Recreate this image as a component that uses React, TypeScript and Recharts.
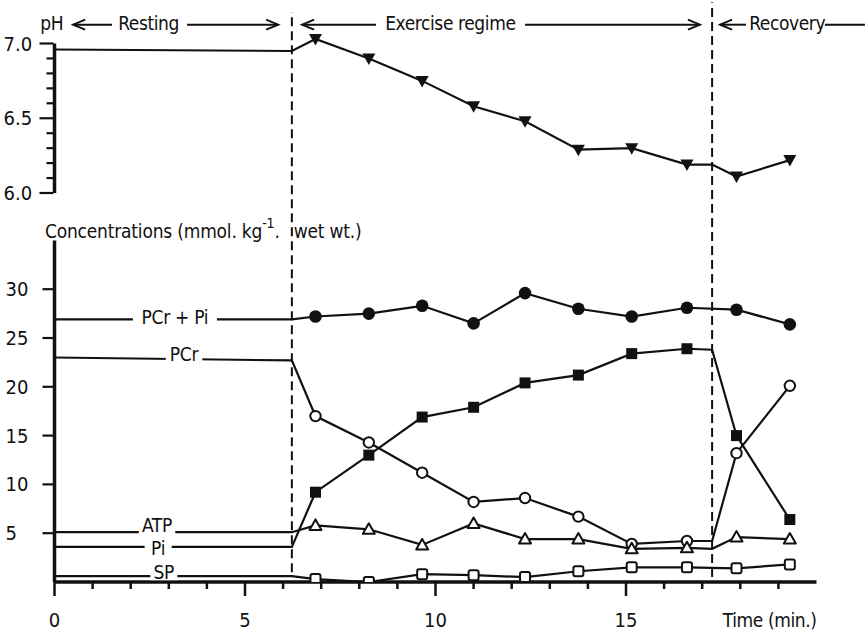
import React from 'react';
import { ComposedChart, Line, XAxis, YAxis, ReferenceLine, ReferenceDot } from 'recharts';

// times (min.) of the sampled points, end of rest and start of recovery
const sampleTimes = [6.85, 8.25, 9.65, 11.0, 12.35, 13.75, 15.15, 16.6, 17.9, 19.3];
const restEnd = 6.23;
const recoveryStart = 17.26;

// resting values: at t = 0 and at end of rest
const phRest = [6.96, 6.95];
const phSamples = [7.03, 6.9, 6.75, 6.58, 6.48, 6.29, 6.3, 6.19, 6.11, 6.22];
const phHold = 6.19;

const pcrPiRest = [26.9, 26.9];
const pcrPiSamples = [27.2, 27.5, 28.3, 26.5, 29.6, 28.0, 27.2, 28.1, 27.9, 26.4];

const pcrRest = [23.0, 22.7];
const pcrSamples = [17.0, 14.3, 11.2, 8.2, 8.6, 6.7, 3.9, 4.2, 13.2, 20.1];
const pcrHold = 4.2;

const piRest = [3.6, 3.6];
const piSamples = [9.2, 13.0, 16.9, 17.9, 20.4, 21.2, 23.4, 23.9, 15.0, 6.4];
const piHold = 23.8;

const atpRest = [5.1, 5.1];
const atpSamples = [5.8, 5.4, 3.8, 6.0, 4.4, 4.4, 3.4, 3.5, 4.6, 4.4];
const atpHold = 3.4;

const spRest = [0.6, 0.6];
const spSamples = [0.3, 0.0, 0.8, 0.7, 0.5, 1.1, 1.5, 1.5, 1.4, 1.8];

const timeTicks = [0, 1, 2, 3, 4, 5, 6, 7, 8, 9, 10, 11, 12, 13, 14, 15, 16, 17, 18, 19, 20];
const timeLabels: Record<number, string> = { 0: '0', 5: '5', 10: '10', 15: '15', 20: 'Time (min.)' };
const concTicks = [5, 10, 15, 20, 25, 30];
const phTicks = [6.0, 6.1, 6.2, 6.3, 6.4, 6.5, 6.6, 6.7, 6.8, 6.9, 7.0];
const phLabels = ['6.0', '6.5', '7.0'];

const ink = '#111';
const font = '"Liberation Sans Narrow", "DejaVu Sans Condensed", "Arial Narrow", sans-serif';

type Pt = { t: number; v: number; mark?: boolean };

const buildSeries = (rest: number[], samples: number[], hold?: number): Pt[] => {
  const pts: Pt[] = [
    { t: 0, v: rest[0] },
    { t: restEnd, v: rest[1] },
  ];
  sampleTimes.forEach((t, i) => {
    if (hold !== undefined && t > recoveryStart && sampleTimes[i - 1] < recoveryStart) {
      pts.push({ t: recoveryStart, v: hold });
    }
    pts.push({ t, v: samples[i], mark: true });
  });
  return pts;
};

const phData = buildSeries(phRest, phSamples, phHold);
const pcrPiData = buildSeries(pcrPiRest, pcrPiSamples);
const pcrData = buildSeries(pcrRest, pcrSamples, pcrHold);
const piData = buildSeries(piRest, piSamples, piHold);
const atpData = buildSeries(atpRest, atpSamples, atpHold);
const spData = buildSeries(spRest, spSamples);

const marker = (kind: string) => (props: any) => {
  const { cx, cy, payload, index } = props;
  const key = `${kind}-${index}`;
  if (!payload || !payload.mark || cx == null || cy == null) return <g key={key} />;
  switch (kind) {
    case 'triDown':
      return <path key={key} d={`M${cx - 6.5},${cy - 5} L${cx + 6.5},${cy - 5} L${cx},${cy + 6.5} Z`} fill={ink} />;
    case 'disc':
      return <circle key={key} cx={cx} cy={cy} r={6.3} fill={ink} />;
    case 'ring':
      return <circle key={key} cx={cx} cy={cy} r={5.2} fill="#fff" stroke={ink} strokeWidth={2} />;
    case 'square':
      return <rect key={key} x={cx - 5.5} y={cy - 5.5} width={11} height={11} fill={ink} />;
    case 'triUp':
      return <path key={key} d={`M${cx - 6},${cy + 4.5} L${cx + 6},${cy + 4.5} L${cx},${cy - 6} Z`} fill="#fff" stroke={ink} strokeWidth={2} strokeLinejoin="round" />;
    default:
      return <rect key={key} x={cx - 5} y={cy - 5} width={10} height={10} rx={2} fill="#fff" stroke={ink} strokeWidth={2} />;
  }
};

const renderTimeTick = (p: any) => {
  const v = p.payload.value;
  const label = timeLabels[v];
  const major = v % 5 === 0;
  return (
    <g>
      {v < 20 && <line x1={p.x} y1={p.y} x2={p.x} y2={p.y + (major ? 14 : 7)} stroke={ink} strokeWidth={2.5} />}
      {label && (
        <text
          x={p.x}
          y={p.y + 45}
          textAnchor={v === 20 ? 'end' : 'middle'}
          fontSize={v === 20 ? 19 : 20}
          letterSpacing={v === 20 ? -0.4 : 0}
          fontFamily={font}
          fill={ink}
        >
          {label}
        </text>
      )}
    </g>
  );
};

const renderConcTick = (p: any) => (
  <g>
    <line x1={p.x - 12} y1={p.y} x2={p.x} y2={p.y} stroke={ink} strokeWidth={2.2} />
    <text x={p.x - 49} y={p.y + 7} textAnchor="start" fontSize={20} fontFamily={font} fill={ink}>
      {p.payload.value}
    </text>
  </g>
);

const renderPhTick = (p: any) => {
  const text = Number(p.payload.value).toFixed(1);
  const major = phLabels.includes(text);
  return (
    <g>
      <line x1={p.x - (major ? 14 : 7)} y1={p.y} x2={p.x} y2={p.y} stroke={ink} strokeWidth={2.2} />
      {major && (
        <text x={p.x - 50} y={p.y + 7} textAnchor="start" fontSize={20} fontFamily={font} fill={ink}>
          {text}
        </text>
      )}
    </g>
  );
};

// label sitting on a line, with a white gap behind it
const lineTag = (text: string, dy: number) => (p: any) => {
  const w = text.length * 9.5 + 8;
  return (
    <g>
      <rect x={p.cx - w / 2} y={p.cy - 4} width={w} height={8} fill="#fff" />
      <text x={p.cx} y={p.cy + dy} textAnchor="middle" fontSize={19} letterSpacing={-0.3} fontFamily={font} fill={ink}>
        {text}
      </text>
    </g>
  );
};

const headTag = (text: string) => (p: any) => (
  <text x={p.cx} y={p.cy} textAnchor="middle" fontSize={19} letterSpacing={-0.4} fontFamily={font} fill={ink}>
    {text}
  </text>
);

const concTitle = (p: any) => (
  <text x={p.cx} y={p.cy} textAnchor="start" fontSize={19} letterSpacing={-0.2} fontFamily={font} fill={ink}>
    Concentrations (mmol. kg
    <tspan dy={-10} fontSize={14}>-1</tspan>
    <tspan dy={10}>.</tspan>
    <tspan dx={14}>wet wt.)</tspan>
  </text>
);

const arrow = (head: 'start' | 'end' | 'none') => (p: any) => {
  const { x1, y1, x2, y2 } = p;
  const hx = head === 'start' ? Math.min(x1, x2) : Math.max(x1, x2);
  const dir = head === 'start' ? 1 : -1;
  return (
    <g>
      <line x1={x1} y1={y1} x2={x2} y2={y2} stroke={ink} strokeWidth={2} />
      {head !== 'none' && (
        <path d={`M${hx + dir * 12},${y1 - 5} L${hx},${y1} L${hx + dir * 12},${y1 + 5}`} fill="none" stroke={ink} strokeWidth={2} />
      )}
    </g>
  );
};

const headTextY = 56.6;
const headArrowY = 57.1;

const App = () => {
  return (
    <div style={{ position: 'absolute', left: 0, top: 0, background: '#fff' }}>
      <ComposedChart width={866} height={636} margin={{ top: 0, right: 49.5, bottom: 24, left: 52.5 }}>
        <XAxis
          dataKey="t"
          type="number"
          domain={[0, 20]}
          allowDataOverflow
          ticks={timeTicks}
          interval={0}
          tick={renderTimeTick}
          tickLine={false}
          tickSize={0}
          tickMargin={0}
          height={30}
          axisLine={{ stroke: ink, strokeWidth: 3.5 }}
        />
        <YAxis
          yAxisId="c"
          type="number"
          domain={[0, 59.63]}
          allowDataOverflow
          ticks={concTicks}
          interval={0}
          width={1}
          axisLine={false}
          tickLine={false}
          tickSize={0}
          tickMargin={0}
          tick={renderConcTick}
        />
        <YAxis
          yAxisId="ph"
          type="number"
          domain={[3.398, 7.291]}
          allowDataOverflow
          ticks={phTicks}
          interval={0}
          width={1}
          axisLine={false}
          tickLine={false}
          tickSize={0}
          tickMargin={0}
          tick={renderPhTick}
        />

        {/* axis lines */}
        <ReferenceLine yAxisId="c" ifOverflow="visible" segment={[{ x: 0, y: 0 }, { x: 0, y: 35 }]} stroke={ink} strokeWidth={3.5} />
        <ReferenceLine yAxisId="ph" ifOverflow="visible" segment={[{ x: 0, y: 6 }, { x: 0, y: 7 }]} stroke={ink} strokeWidth={3.5} />

        {/* phase boundaries */}
        <ReferenceLine yAxisId="c" ifOverflow="visible" segment={[{ x: restEnd, y: 1.0 }, { x: restEnd, y: 58.4 }]} stroke={ink} strokeWidth={2} strokeDasharray="9 5" />
        <ReferenceLine yAxisId="c" ifOverflow="visible" segment={[{ x: recoveryStart, y: 0.5 }, { x: recoveryStart, y: 59.4 }]} stroke={ink} strokeWidth={2} strokeDasharray="9 5" />

        {/* phase headings */}
        <ReferenceDot yAxisId="c" ifOverflow="visible" x={-0.07} y={headTextY} r={1} shape={headTag('pH')} />
        <ReferenceLine yAxisId="c" ifOverflow="visible" segment={[{ x: 0.49, y: headArrowY }, { x: 1.51, y: headArrowY }]} shape={arrow('start')} />
        <ReferenceDot yAxisId="c" ifOverflow="visible" x={2.47} y={headTextY} r={1} shape={headTag('Resting')} />
        <ReferenceLine yAxisId="c" ifOverflow="visible" segment={[{ x: 3.48, y: headArrowY }, { x: 5.87, y: headArrowY }]} shape={arrow('end')} />
        <ReferenceLine yAxisId="c" ifOverflow="visible" segment={[{ x: 6.5, y: headArrowY }, { x: 8.44, y: headArrowY }]} shape={arrow('start')} />
        <ReferenceDot yAxisId="c" ifOverflow="visible" x={10.39} y={headTextY} r={1} shape={headTag('Exercise regime')} />
        <ReferenceLine yAxisId="c" ifOverflow="visible" segment={[{ x: 12.35, y: headArrowY }, { x: 16.94, y: headArrowY }]} shape={arrow('end')} />
        <ReferenceLine yAxisId="c" ifOverflow="visible" segment={[{ x: 17.47, y: headArrowY }, { x: 18.15, y: headArrowY }]} shape={arrow('start')} />
        <ReferenceDot yAxisId="c" ifOverflow="visible" x={19.23} y={headTextY} r={1} shape={headTag('Recovery')} />
        <ReferenceLine yAxisId="c" ifOverflow="visible" segment={[{ x: 20.22, y: headArrowY }, { x: 21.27, y: headArrowY }]} shape={arrow('none')} />

        <ReferenceDot yAxisId="c" ifOverflow="visible" x={-0.25} y={35.25} r={1} shape={concTitle} />

        <Line yAxisId="ph" data={phData} dataKey="v" type="linear" stroke={ink} strokeWidth={2.2} dot={marker('triDown')} activeDot={false} isAnimationActive={false} />
        <Line yAxisId="c" data={pcrPiData} dataKey="v" type="linear" stroke={ink} strokeWidth={2.2} dot={marker('disc')} activeDot={false} isAnimationActive={false} />
        <Line yAxisId="c" data={piData} dataKey="v" type="linear" stroke={ink} strokeWidth={2.2} dot={marker('square')} activeDot={false} isAnimationActive={false} />
        <Line yAxisId="c" data={pcrData} dataKey="v" type="linear" stroke={ink} strokeWidth={2.2} dot={marker('ring')} activeDot={false} isAnimationActive={false} />
        <Line yAxisId="c" data={atpData} dataKey="v" type="linear" stroke={ink} strokeWidth={2.2} dot={marker('triUp')} activeDot={false} isAnimationActive={false} />
        <Line yAxisId="c" data={spData} dataKey="v" type="linear" stroke={ink} strokeWidth={2.2} dot={marker('box')} activeDot={false} isAnimationActive={false} />

        {/* series names on the resting lines */}
        <ReferenceDot yAxisId="c" x={3.16} y={pcrPiRest[0]} r={1} shape={lineTag('PCr + Pi', 5)} />
        <ReferenceDot yAxisId="c" x={3.4} y={pcrRest[0]} r={1} shape={lineTag('PCr', 3)} />
        <ReferenceDot yAxisId="c" x={2.69} y={atpRest[0]} r={1} shape={lineTag('ATP', 0)} />
        <ReferenceDot yAxisId="c" x={2.72} y={piRest[0]} r={1} shape={lineTag('Pi', 8)} />
        <ReferenceDot yAxisId="c" x={2.87} y={spRest[0]} r={1} shape={lineTag('SP', 3)} />
      </ComposedChart>
    </div>
  );
};

export default App;
